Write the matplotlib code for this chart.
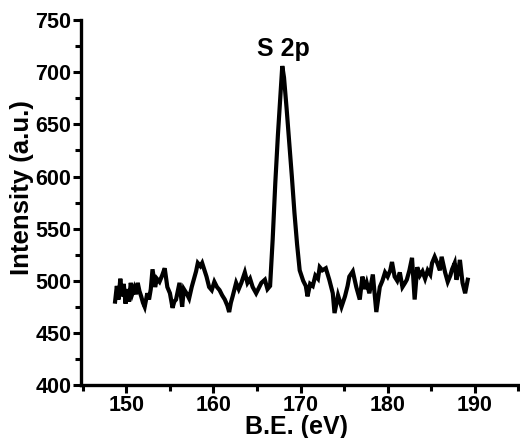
import numpy as np
import matplotlib
matplotlib.use("Agg")
import matplotlib.pyplot as plt
from matplotlib.ticker import MultipleLocator

plt.rcParams['font.family'] = ['Liberation Sans', 'DejaVu Sans']
plt.rcParams['font.weight'] = 'bold'

# binding energy (eV) and intensity (a.u.)
be = [148.7, 148.9, 149.1, 149.3, 149.5, 149.7, 149.9, 150.1, 150.3, 150.5,
      150.7, 150.9, 151.1, 151.3, 151.5, 151.7, 151.9, 152.1, 152.4, 152.6,
      152.8, 153.0, 153.3, 153.5, 153.8, 154.1, 154.4, 154.7, 155.0, 155.3,
      155.5, 155.7, 156.1, 156.4, 156.6, 156.9, 157.2, 157.5, 157.8, 158.0,
      158.2, 158.5, 158.7, 159.0, 159.2, 159.5, 159.8, 160.1, 160.4, 160.7,
      161.0, 161.3, 161.6, 161.8, 162.0, 162.2, 162.6, 162.9, 163.2, 163.6,
      163.9, 164.2, 164.5, 164.9, 165.2, 165.5, 165.9, 166.2, 166.5, 166.8,
      167.1, 167.4, 167.7, 167.9, 168.1, 168.4, 168.7, 169.0, 169.3, 169.6,
      169.9, 170.3, 170.6, 170.8, 171.1, 171.4, 171.7, 172.0, 172.2, 172.5,
      172.9, 173.3, 173.7, 173.9, 174.3, 174.7, 175.1, 175.4, 175.6, 176.0,
      176.4, 176.8, 177.1, 177.4, 177.6, 177.9, 178.3, 178.7, 179.1, 179.4,
      179.7, 180.0, 180.3, 180.5, 180.8, 181.1, 181.4, 181.7, 182.0, 182.2,
      182.5, 182.8, 183.1, 183.4, 183.7, 184.0, 184.3, 184.6, 184.9, 185.1,
      185.4, 185.7, 186.0, 186.2, 186.6, 186.9, 187.2, 187.4, 187.7, 187.9,
      188.1, 188.3, 188.6, 188.9, 189.2]
counts = [480, 495, 482, 502, 485, 497, 478, 492, 480, 498,
          488, 493, 487, 498, 490, 485, 479, 475, 488, 482,
          492, 511, 494, 502, 499, 505, 512, 494, 488, 474,
          480, 482, 498, 475, 492, 488, 483, 494, 503, 509,
          517, 514, 517, 509, 504, 494, 491, 499, 494, 491,
          486, 482, 476, 470, 479, 485, 498, 492, 498, 508,
          498, 502, 494, 488, 493, 498, 501, 492, 495, 540,
          594, 640, 680, 706, 695, 665, 633, 600, 565, 535,
          510, 500, 495, 485, 497, 495, 505, 502, 513, 510,
          512, 501, 488, 469, 486, 475, 485, 495, 504, 509,
          494, 482, 504, 492, 498, 488, 506, 470, 494, 500,
          508, 504, 510, 518, 504, 500, 508, 494, 498, 501,
          510, 522, 482, 513, 505, 509, 502, 510, 506, 517,
          523, 517, 510, 523, 508, 499, 505, 511, 517, 501,
          508, 520, 498, 488, 501]

fig = plt.figure(figsize=(5.2, 4.38), dpi=100)
ax = fig.add_axes([0.156, 0.121, 0.844, 0.833])

ax.plot(be, counts, color='black', linewidth=3.0, solid_joinstyle='miter')

ax.set_xlim(144.8, 195.2)
ax.set_ylim(400, 750)
ax.xaxis.set_major_locator(MultipleLocator(10))
ax.xaxis.set_minor_locator(MultipleLocator(5))
ax.yaxis.set_major_locator(MultipleLocator(50))
ax.yaxis.set_minor_locator(MultipleLocator(25))

for side in ['top', 'right']:
    ax.spines[side].set_visible(False)
for side in ['left', 'bottom']:
    ax.spines[side].set_linewidth(2.4)

ax.tick_params(which='major', direction='out', length=6, width=2.2, labelsize=15.5, pad=1)
ax.tick_params(which='minor', direction='out', length=4, width=2.2)
for lab in ax.get_xticklabels() + ax.get_yticklabels():
    lab.set_fontweight('bold')

ax.set_xlabel('B.E. (eV)', fontsize=18, fontweight='bold')
ax.set_ylabel('Intensity (a.u.)', fontsize=18.5, fontweight='bold')
ax.xaxis.set_label_coords(0.49, -0.083)
ax.yaxis.set_label_coords(-0.108, 0.54)

ax.text(168.0, 722, 'S 2p', fontsize=18, fontweight='bold', ha='center', va='center')

fig.savefig('out.png', dpi=100)
